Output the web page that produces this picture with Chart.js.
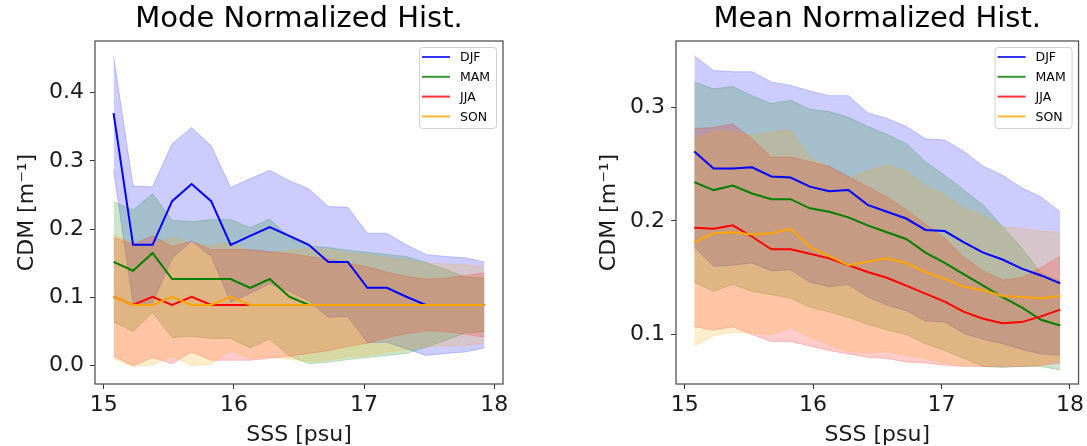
<!DOCTYPE html>
<html>
<head>
<meta charset="utf-8">
<script src="https://cdn.jsdelivr.net/npm/chart.js@4.4.0/dist/chart.umd.min.js"></script>
<style>
    body { margin: 0; background: #fff; }
    #wrap { position: relative; width: 1087px; height: 446px; }
    canvas { position: absolute; top: 0; }
</style>
</head>
<body>
<div id="wrap">
    <canvas id="modeChart" width="543" height="446" style="left:0px"></canvas>
    <canvas id="meanChart" width="544" height="446" style="left:543px"></canvas>
</div>
<script>
// bin centres (SSS, psu)
const sss = [15.075, 15.225, 15.375, 15.525, 15.675, 15.825, 15.975, 16.125, 16.275, 16.425,
             16.575, 16.725, 16.875, 17.025, 17.175, 17.325, 17.475, 17.625, 17.775, 17.925];

const seasons = ['DJF', 'MAM', 'JJA', 'SON'];

// mode of the normalized histogram
const modeDJF = [0.370, 0.177, 0.177, 0.241, 0.266, 0.241, 0.177, 0.190, 0.203, 0.190,
                 0.177, 0.152, 0.152, 0.114, 0.114, 0.101, 0.089, 0.089, 0.089, 0.089];
const modeMAM = [0.152, 0.139, 0.165, 0.127, 0.127, 0.127, 0.127, 0.114, 0.127, 0.101,
                 0.089, 0.089, 0.089, 0.089, 0.089, 0.089, 0.089, 0.089, 0.089, 0.089];
const modeJJA = [0.101, 0.089, 0.101, 0.089, 0.101, 0.089, 0.089, 0.089, 0.089, 0.089,
                 0.089, 0.089, 0.089, 0.089, 0.089, 0.089, 0.089, 0.089, 0.089, 0.089];
const modeSON = [0.101, 0.089, 0.089, 0.101, 0.089, 0.089, 0.101, 0.089, 0.089, 0.089,
                 0.089, 0.089, 0.089, 0.089, 0.089, 0.089, 0.089, 0.089, 0.089, 0.089];

// mean of the normalized histogram
const meanDJF = [0.261, 0.246, 0.246, 0.247, 0.239, 0.238, 0.230, 0.226, 0.227, 0.214,
                 0.208, 0.202, 0.192, 0.191, 0.181, 0.172, 0.166, 0.158, 0.152, 0.145];
const meanMAM = [0.234, 0.227, 0.231, 0.224, 0.219, 0.219, 0.211, 0.208, 0.203, 0.196,
                 0.190, 0.184, 0.172, 0.163, 0.153, 0.143, 0.133, 0.124, 0.113, 0.108];
const meanJJA = [0.194, 0.193, 0.196, 0.186, 0.175, 0.175, 0.171, 0.167, 0.161, 0.155,
                 0.150, 0.143, 0.136, 0.129, 0.120, 0.114, 0.110, 0.111, 0.116, 0.122];
const meanSON = [0.181, 0.189, 0.190, 0.188, 0.189, 0.193, 0.177, 0.169, 0.161, 0.164,
                 0.167, 0.163, 0.155, 0.149, 0.142, 0.139, 0.134, 0.133, 0.132, 0.134];

// spread (half width of the shaded band), same for both panels
const stdDJF = [0.084, 0.086, 0.085, 0.084, 0.083, 0.081, 0.084, 0.084, 0.083, 0.081,
                0.082, 0.081, 0.080, 0.080, 0.080, 0.076, 0.074, 0.071, 0.069, 0.063];
const stdMAM = [0.088, 0.089, 0.087, 0.086, 0.084, 0.087, 0.087, 0.088, 0.088, 0.087,
                0.086, 0.084, 0.080, 0.077, 0.074, 0.071, 0.062, 0.052, 0.041, 0.039];
const stdJJA = [0.087, 0.089, 0.089, 0.086, 0.081, 0.081, 0.081, 0.081, 0.078, 0.075,
                0.071, 0.067, 0.061, 0.056, 0.048, 0.042, 0.038, 0.039, 0.043, 0.047];
const stdSON = [0.091, 0.090, 0.088, 0.087, 0.089, 0.087, 0.079, 0.078, 0.076, 0.080,
                0.082, 0.081, 0.076, 0.074, 0.069, 0.066, 0.061, 0.060, 0.059, 0.056];

const xTicks = [15, 16, 17, 18];
const modeYTicks = [0.0, 0.1, 0.2, 0.3, 0.4];
const meanYTicks = [0.1, 0.2, 0.3];

const lineColors = ['#0000ff', '#008000', '#ff0000', '#ffa500'];
const fillColors = ['rgba(0,0,255,0.2)', 'rgba(0,128,0,0.2)', 'rgba(255,0,0,0.2)', 'rgba(255,165,0,0.2)'];
const legendColors = ['rgba(0,0,255,0.8)', 'rgba(0,128,0,0.8)', 'rgba(255,0,0,0.8)', 'rgba(255,165,0,0.8)'];
const FONT = 'DejaVu Sans';
const TEXT = '#1a1a1a';

function buildDatasets(centers, stds) {
    let sets = [];
    centers.forEach((c, s) => {
        sets.push({
            data: sss.map((x, i) => ({ x: x, y: c[i] + stds[s][i] })),
            borderColor: fillColors[s], borderWidth: 1, pointRadius: 0,
            fill: false, order: 20 - s * 2
        });
        sets.push({
            data: sss.map((x, i) => ({ x: x, y: c[i] - stds[s][i] })),
            borderColor: fillColors[s], borderWidth: 1, pointRadius: 0,
            backgroundColor: fillColors[s], fill: '-1', order: 19 - s * 2
        });
    });
    centers.forEach((c, s) => {
        sets.push({
            label: seasons[s],
            data: sss.map((x, i) => ({ x: x, y: c[i] })),
            borderColor: lineColors[s], borderWidth: 2, pointRadius: 0,
            fill: false, tension: 0, order: 4 - s
        });
    });
    return sets;
}

// frame, title and legend drawn around/inside the plot area
function panelPlugin(titleText) {
    return {
        id: 'panel',
        afterDraw(chart) {
            const ctx = chart.ctx;
            const a = chart.chartArea;
            ctx.save();
            ctx.strokeStyle = '#555';
            ctx.lineWidth = 1.3;
            ctx.strokeRect(a.left, a.top, a.right - a.left, a.bottom - a.top);

            ctx.fillStyle = '#000';
            ctx.font = '29px "' + FONT + '"';
            ctx.textAlign = 'center';
            ctx.textBaseline = 'middle';
            ctx.fillText(titleText, (a.left + a.right) / 2, 19);

            const bw = 77, bh = 81;
            const bx = a.right - 7 - bw, by = a.top + 6;
            ctx.beginPath();
            ctx.roundRect(bx + 0.5, by + 0.5, bw, bh, 3);
            ctx.fillStyle = 'rgba(255,255,255,0.8)';
            ctx.fill();
            ctx.strokeStyle = '#d0d0d0';
            ctx.lineWidth = 1;
            ctx.stroke();

            ctx.font = '12.5px "' + FONT + '"';
            ctx.textAlign = 'left';
            seasons.forEach((name, i) => {
                const y = by + 10 + i * 19.8;
                ctx.strokeStyle = legendColors[i];
                ctx.lineWidth = 2;
                ctx.beginPath();
                ctx.moveTo(bx + 3, y);
                ctx.lineTo(bx + 31, y);
                ctx.stroke();
                ctx.fillStyle = '#000';
                ctx.fillText(name, bx + 41, y + 1);
            });
            ctx.restore();
        }
    };
}

function makeChart(id, cfg) {
    return new Chart(document.getElementById(id), {
        type: 'line',
        data: { datasets: buildDatasets(cfg.centers, [stdDJF, stdMAM, stdJJA, stdSON]) },
        options: {
            responsive: false,
            animation: false,
            events: [],
            layout: { padding: { top: 41, right: cfg.padRight, left: 0, bottom: 0 } },
            plugins: {
                legend: { display: false },
                tooltip: { enabled: false },
                title: { display: false }
            },
            scales: {
                x: {
                    type: 'linear',
                    min: 14.9325,
                    max: 18.0675,
                    afterBuildTicks: s => { s.ticks = xTicks.map(v => ({ value: v })); },
                    afterFit: s => { s.height = 62; },
                    border: { display: false },
                    grid: { drawOnChartArea: false, drawTicks: true, tickLength: 5, color: '#333' },
                    ticks: {
                        color: TEXT, padding: 3, maxRotation: 0,
                        font: { family: FONT, size: 22 },
                        callback: v => String(v)
                    },
                    title: {
                        display: true, text: 'SSS [psu]', color: TEXT, padding: 0,
                        font: { family: FONT, size: 22, lineHeight: 1 }
                    }
                },
                y: {
                    type: 'linear',
                    min: cfg.yMin,
                    max: cfg.yMax,
                    afterBuildTicks: s => { s.ticks = cfg.yTicks.map(v => ({ value: v })); },
                    afterFit: s => { s.width = cfg.yWidth; },
                    border: { display: false },
                    grid: { drawOnChartArea: false, drawTicks: true, tickLength: 5, color: '#333' },
                    ticks: {
                        color: TEXT, padding: 6,
                        font: { family: FONT, size: 22 },
                        callback: v => v.toFixed(1)
                    },
                    title: {
                        display: true, text: 'CDM [m⁻¹]', color: TEXT,
                        padding: { top: cfg.yTitlePad, bottom: 0 },
                        font: { family: FONT, size: 22, lineHeight: 1.2 }
                    }
                }
            }
        },
        plugins: [panelPlugin(cfg.title)]
    });
}

makeChart('modeChart', {
    title: 'Mode Normalized Hist.',
    centers: [modeDJF, modeMAM, modeJJA, modeSON],
    yMin: -0.0268, yMax: 0.4755, yTicks: modeYTicks,
    yWidth: 95, padRight: 40, yTitlePad: 14
});

makeChart('meanChart', {
    title: 'Mean Normalized Hist.',
    centers: [meanDJF, meanMAM, meanJJA, meanSON],
    yMin: 0.0566, yMax: 0.358, yTicks: meanYTicks,
    yWidth: 133, padRight: 5, yTitlePad: 53
});
</script>
</body>
</html>
